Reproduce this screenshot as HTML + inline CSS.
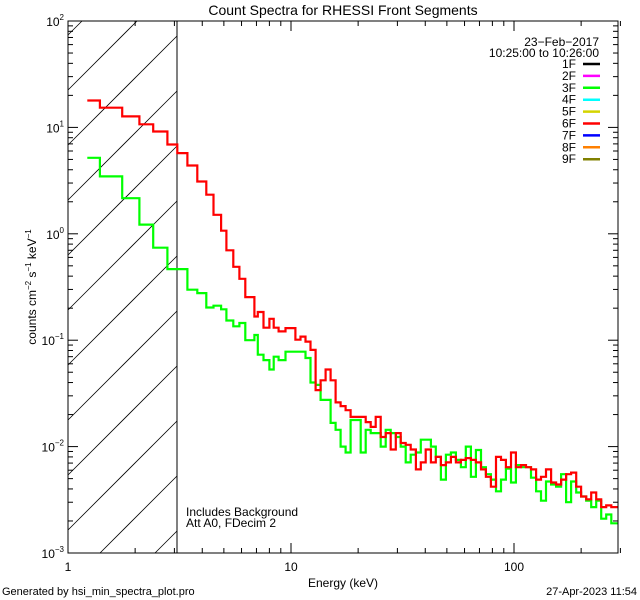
<!DOCTYPE html>
<html><head><meta charset="utf-8"><style>
html,body{margin:0;padding:0;background:#fff;width:640px;height:600px;overflow:hidden;}
svg{display:block;font-family:"Liberation Sans",sans-serif;overflow:hidden;}
</style></head><body>
<svg id="chart" width="640" height="600" viewBox="0 0 640 600">
<defs><clipPath id="pc"><rect x="68" y="21" width="550" height="532"/></clipPath></defs>
<rect width="640" height="600" fill="#fff"/>
<text x="343" y="15" font-size="14" text-anchor="middle">Count Spectra for RHESSI Front Segments</text>
<g id="hatch"></g>
<line x1="177" y1="21" x2="177" y2="553" stroke="#000" stroke-width="1"/>
<g id="series" clip-path="url(#pc)"></g>
<rect x="68" y="21" width="550" height="532" fill="none" stroke="#000" stroke-width="1"/>
<g id="ticks"></g>
<text x="343" y="587" font-size="12" text-anchor="middle">Energy (keV)</text>
<text transform="translate(36,287) rotate(-90)" font-size="12" text-anchor="middle">counts cm<tspan font-size="8" dy="-5">−2</tspan><tspan dy="5"> s</tspan><tspan font-size="8" dy="-5">−1</tspan><tspan dy="5"> keV</tspan><tspan font-size="8" dy="-5">−1</tspan></text>
<text x="599" y="46" font-size="12" text-anchor="end">23−Feb−2017</text>
<text x="599" y="57" font-size="12" text-anchor="end">10:25:00 to 10:26:00</text>
<g id="legend"></g>
<text x="186" y="516" font-size="12">Includes Background</text>
<text x="186" y="527" font-size="12">Att A0, FDecim 2</text>
<text x="2" y="595" font-size="11">Generated by hsi_min_spectra_plot.pro</text>
<text x="637" y="595" font-size="11" text-anchor="end">27-Apr-2023 11:54</text>
</svg>
<script>
const edges=[1.22,1.39,1.75,2.09,2.41,2.79,3.09,3.43,3.80,4.17,4.49,4.86,5.13,5.51,5.87,6.24,6.85,7.10,7.53,8.0,8.36,8.80,9.45,
9.95,10.47,11.03,11.61,12.23,12.89,13.57,14.29,15.05,15.85,16.69,17.58,18.51,19.50,20.53,21.62,22.77,23.98,25.25,26.59,28.0,29.5,31.05,32.7,34.4,36.3,38.2,40.2,42.4,44.6,47.0,49.5,52.1,54.9,57.8,60.8,64.1,67.5,71.1,74.8,78.8,83.0,87.4,92.0,96.9,102,107.5,113.2,119.2,125.6,132.2,139.2,146.7,154.5,162.6,171.2,180.4,190,200,210.7,221.9,233.6,246,259,273,295];
const red6F=[17.9,15.3,12.7,10.7,9.15,6.9,5.73,4.38,3.1,2.33,1.51,1.07,0.70,0.49,0.378,0.254,0.167,0.184,0.131,0.159,0.131,0.121,
0.13,0.13,0.101,0.108,0.097,0.081,0.034,0.042,0.053,0.042,0.026,0.024,0.022,0.019,0.019,0.019,0.017,0.0153,0.019,0.0123,0.0134,0.0094,0.0134,0.0108,0.0104,0.0094,0.0061,0.0071,0.0094,0.0071,0.0080,0.0067,0.0071,0.0080,0.0071,0.0075,0.0078,0.0075,0.0071,0.0061,0.0052,0.0042,0.0080,0.0075,0.0064,0.0088,0.0064,0.0067,0.0064,0.0061,0.0049,0.0052,0.0061,0.0046,0.0044,0.0049,0.0055,0.0057,0.0042,0.0034,0.0032,0.0037,0.0032,0.0027,0.0028,0.0027];
const green3F=[5.18,3.46,2.16,1.22,0.74,0.466,0.466,0.298,0.277,0.203,0.211,0.195,0.153,0.135,0.145,0.10,0.112,0.073,0.065,0.053,0.07,0.065,
0.078,0.078,0.078,0.078,0.068,0.040,0.038,0.0275,0.0275,0.0167,0.0144,0.0100,0.0088,0.0178,0.0178,0.0088,0.0144,0.0134,0.0134,0.0100,0.0144,0.0134,0.0123,0.0100,0.0071,0.0084,0.0088,0.0116,0.0116,0.0100,0.0080,0.0049,0.0084,0.0088,0.0075,0.0064,0.0100,0.0052,0.0093,0.0064,0.0055,0.0049,0.0038,0.0049,0.0062,0.0046,0.0067,0.0064,0.0064,0.0051,0.0038,0.0031,0.0047,0.0044,0.0042,0.0055,0.0030,0.0047,0.0037,0.0034,0.0031,0.0027,0.0031,0.0021,0.0023,0.0019];
const legendLabels=["1F","2F","3F","4F","5F","6F","7F","8F","9F"];
const legendColors=["#000000","#ff00ff","#00ff00","#00ffff","#d4d400","#ff0000","#0000ff","#ff8000","#808000"];
const xTickLabels=["1","10","100"];
const xTickVals=[1,10,100];
const yExps=[-3,-2,-1,0,1,2];

const NS="http://www.w3.org/2000/svg";
const L=68,R=618,T=21,B=553;
const xs=e=>L+Math.log10(e)*223;
const ys=v=>B-(Math.log10(v)+3)*(B-T)/5;
function mk(tag,attrs,parent){const el=document.createElementNS(NS,tag);for(const k in attrs)el.setAttribute(k,attrs[k]);parent.appendChild(el);return el;}

const hatch=document.getElementById('hatch');
for(let k=-10;k<16;k++){
  const y0=155+55*k+100; // y at x=68, slope -1
  let xa=Math.max(68,68+(y0-B)), xb=Math.min(177,68+(y0-T));
  if(xb<=xa) continue;
  const ln=mk('line',{x1:xa,y1:y0-(xa-68),x2:xb,y2:y0-(xb-68),stroke:'#000','stroke-width':0.8},hatch);
  
  
}
const sg=document.getElementById('series');
function step(vals,color,name){
  let d='';
  for(let i=0;i<vals.length;i++){
    const x0=xs(edges[i]),x1=xs(edges[i+1]),y=ys(vals[i]);
    d+=(i===0?'M':'L')+x0.toFixed(1)+','+y.toFixed(1)+'L'+x1.toFixed(1)+','+y.toFixed(1);
  }
  const p=mk('path',{d:d,fill:'none',stroke:color,'stroke-width':2.2,'stroke-linejoin':'miter'},sg);
  
  
}
step(green3F,'#00ff00','series-3f');
step(red6F,'#ff0000','series-6f');
const tg=document.getElementById('ticks');
for(let dec=0;dec<3;dec++){
  for(let m=1;m<10;m++){
    const e=Math.pow(10,dec)*m; if(e>300)break;
    const x=xs(e),len=m===1?10:5;
    const t1=mk('line',{x1:x,y1:B,x2:x,y2:B-len,stroke:'#000'},tg);
    
    
    const t2=mk('line',{x1:x,y1:T,x2:x,y2:T+len,stroke:'#000'},tg);
    
    
  }
}
xTickVals.forEach((v,i)=>{
  const t=mk('text',{x:xs(v),y:B+18,'font-size':12,'text-anchor':'middle'},tg);
  t.textContent=xTickLabels[i];
  
  
});
yExps.forEach(ex=>{
  for(let m=1;m<10;m++){
    if(ex===2&&m>1)break;
    const y=ys(Math.pow(10,ex)*m),len=m===1?10:5;
    const a=mk('line',{x1:L,y1:y,x2:L+len,y2:y,stroke:'#000'},tg);
    
    
    const b=mk('line',{x1:R,y1:y,x2:R-len,y2:y,stroke:'#000'},tg);
    
    
  }
  const t=mk('text',{x:L-4,y:ys(Math.pow(10,ex))+5,'font-size':12,'text-anchor':'end'},tg);
  t.innerHTML='10<tspan font-size="8" dy="-6">'+(ex<0?'−'+(-ex):ex)+'</tspan>';
  
  
});
const lg=document.getElementById('legend');
legendLabels.forEach((lab,i)=>{
  const y=64+i*11.9;
  const t=mk('text',{x:576,y:y+4,'font-size':12,'text-anchor':'end'},lg);
  t.textContent=lab;
  
  
  const l=mk('line',{x1:583,y1:y,x2:600,y2:y,stroke:legendColors[i],'stroke-width':2.5},lg);
  
  
});
</script>
</body></html>
